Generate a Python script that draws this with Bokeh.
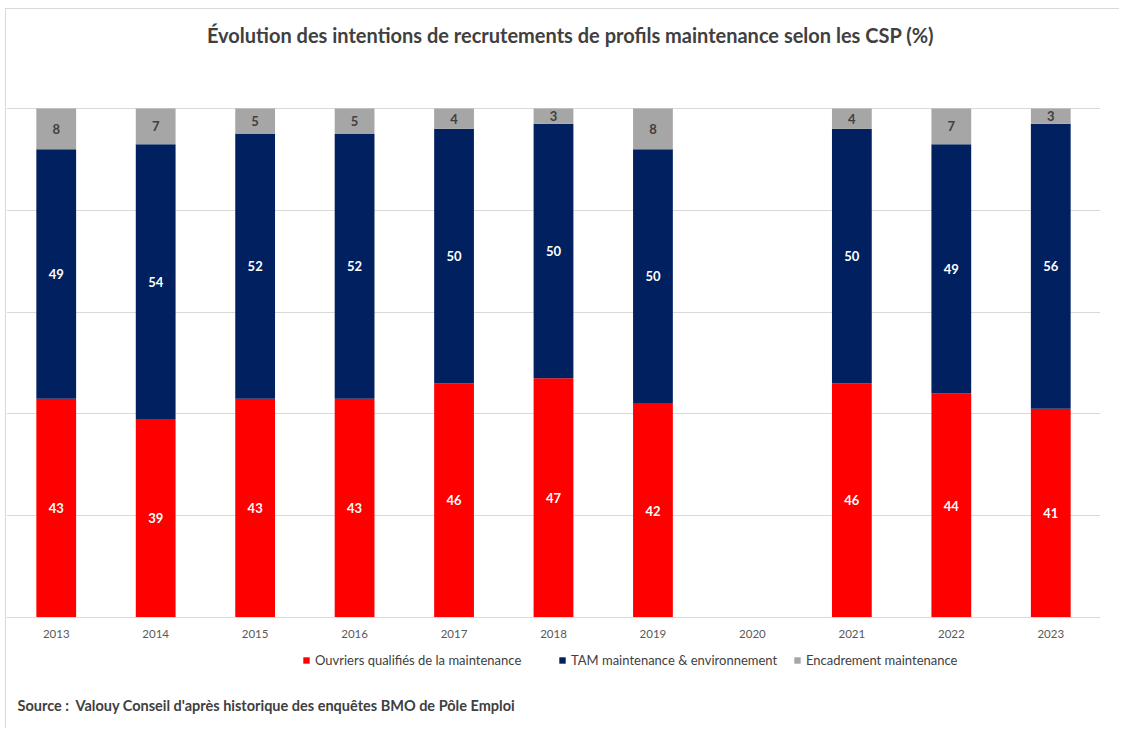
from bokeh.plotting import figure
from bokeh.models import (ColumnDataSource, FactorRange, Range1d, FixedTicker,
                          Legend, LegendItem)
from bokeh.core.properties import value
from bokeh.embed import file_html
from bokeh.resources import INLINE

NaN = float("nan")

# ---- data ----
years = ["2013", "2014", "2015", "2016", "2017", "2018", "2019", "2020", "2021", "2022", "2023"]
ouvriers = [43, 39, 43, 43, 46, 47, 42, NaN, 46, 44, 41]
tam = [49, 54, 52, 52, 50, 50, 50, NaN, 50, 49, 56]
encadrement = [8, 7, 5, 5, 4, 3, 8, NaN, 4, 7, 3]
series_names = ["Ouvriers qualifiés de la maintenance",
                "TAM maintenance & environnement",
                "Encadrement maintenance"]
grid_ticks = [0, 20, 40, 60, 80, 100]

TITLE = "Évolution des intentions de recrutements de profils maintenance selon les CSP (%)"
SOURCE = "Source :\u00a0\u00a0Valouy Conseil d'après historique des enquêtes BMO de Pôle Emploi"

# ---- style / layout ----
COLORS = ["#FF0000", "#002060", "#A6A6A6"]
LABEL_COLORS = ["#FFFFFF", "#FFFFFF", "#404040"]
FONT = "Lato"
W, H = 1114, 720
FRAME_W = 1094
CAT_PX = FRAME_W / len(years)
PX_PER_UNIT = 5.09
Y100_PX = 99    # pixel row of 100% (from top of figure)
Y0_PX = 608     # pixel row of 0%
Y_TOP = 100 + Y100_PX / PX_PER_UNIT
Y_BOT = -(H - Y0_PX) / PX_PER_UNIT

keys = ["ouvriers", "tam", "encadrement"]
src = ColumnDataSource(dict(years=years, ouvriers=ouvriers, tam=tam, encadrement=encadrement))

p = figure(x_range=FactorRange(*years), y_range=Range1d(Y_BOT, Y_TOP),
           width=W, height=H, output_backend="svg", toolbar_location=None,
           y_axis_location=None,
           min_border_left=0, min_border_right=W - FRAME_W, min_border_top=0, min_border_bottom=0,
           styles={"border-top": "1px solid #d9d9d9", "border-left": "1px solid #d9d9d9",
                   "margin-left": "5px", "margin-top": "8px"})
p.outline_line_color = None
p.background_fill_color = "white"
p.border_fill_color = "white"

renderers = p.vbar_stack(keys, x="years", width=0.4, color=COLORS, line_color=None, source=src)

# grid
p.xgrid.grid_line_color = None
p.ygrid.ticker = FixedTicker(ticks=grid_ticks)
p.ygrid.grid_line_color = "#d9d9d9"
p.ygrid.grid_line_width = 1

# x axis at y=0
ax = p.xaxis[0]
ax.fixed_location = 0
ax.axis_line_color = "#d9d9d9"
ax.major_tick_line_color = None
ax.minor_tick_line_color = None
ax.major_tick_out = 0
ax.major_label_standoff = 12
ax.major_label_text_font = FONT
ax.major_label_text_font_size = "11.5px"
ax.major_label_text_color = "#595959"

# data labels
series = [ouvriers, tam, encadrement]
for si, vals in enumerate(series):
    xs, ys, txt = [], [], []
    for i, yr in enumerate(years):
        v = vals[i]
        if v != v:
            continue
        bottom = sum(series[k][i] for k in range(si))
        xs.append(yr)
        ys.append(bottom + v / 2)
        txt.append(str(int(v)))
    p.text(x=xs, y=ys, text=txt, text_align="center", text_baseline="middle",
           text_font=value(FONT), text_font_style="bold", text_font_size="13px",
           text_color=LABEL_COLORS[si])

# title
p.text(x=[564 / CAT_PX], y=[100 + (Y100_PX - 25) / PX_PER_UNIT], text=[TITLE], text_align="center",
       text_baseline="middle", text_font=value(FONT), text_font_style="bold",
       text_font_size="20px", text_color="#404040")

# source
p.text(x=[11 / CAT_PX], y=[-(696 - Y0_PX) / PX_PER_UNIT], text=[SOURCE],
       text_align="left", text_baseline="middle", text_font=value(FONT),
       text_font_style="bold", text_font_size="14.5px", text_color="#404040")

# legends (one per item for exact placement)
legend_x = [296, 552, 787]
for r, name, lx in zip(renderers, series_names, legend_x):
    lg = Legend(items=[LegendItem(label=name, renderers=[r])], location=(lx, 61),
                orientation="horizontal", padding=0, margin=0, spacing=0,
                glyph_width=8, glyph_height=8, label_height=8, label_standoff=5,
                border_line_color=None, background_fill_alpha=0,
                label_text_font=FONT, label_text_font_size="13px",
                label_text_color="#404040")
    p.add_layout(lg)

open("out.html", "w").write(file_html(p, INLINE))
